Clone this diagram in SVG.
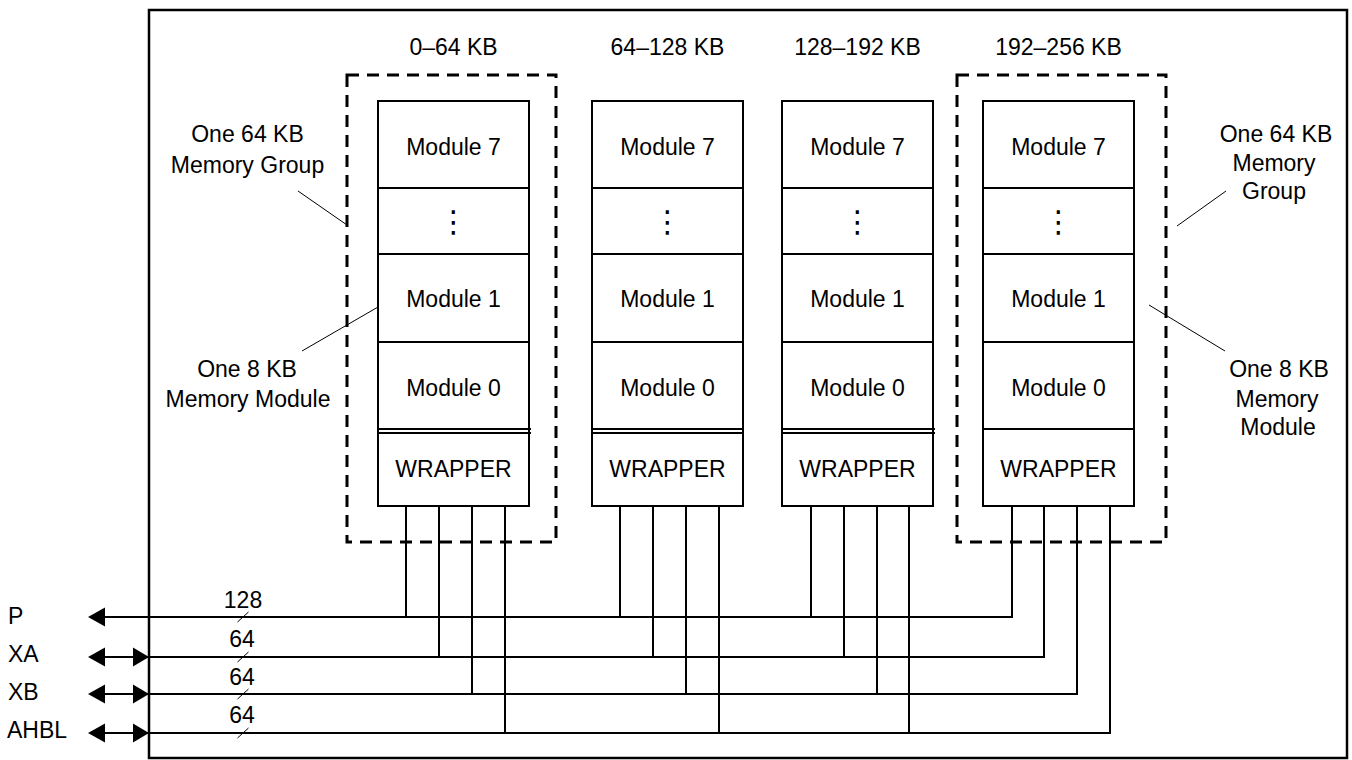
<svg xmlns="http://www.w3.org/2000/svg" width="1352" height="760" viewBox="0 0 1352 760">
<style>
  text { font-family: "Liberation Sans", Arial, sans-serif; font-size: 23px; fill: #000; }
  .c { text-anchor: middle; }
  .box { fill: #fff; stroke: #000; stroke-width: 2; }
  .ln { stroke: #000; stroke-width: 2; fill: none; }
  .thin { stroke: #000; stroke-width: 1; fill: none; }
  .dash { fill: none; stroke: #000; stroke-width: 3; stroke-dasharray: 12 8; }
  .ah { fill: #000; stroke: none; }
  .dots { font-family: "DejaVu Sans", sans-serif; font-size: 30px; }
</style>
<rect width="1352" height="760" fill="#fff"/>
<rect id="chip" x="149" y="10" width="1198" height="748" fill="none" stroke="#000" stroke-width="2.5"/>

<g id="group0">
  <text class="c" x="453.5" y="55">0–64 KB</text>
  <rect class="dash" x="347" y="75" width="209" height="467"/>
</g>
<g id="group3">
  <text class="c" x="1058.5" y="55">192–256 KB</text>
  <rect class="dash" x="957" y="75" width="209" height="467"/>
</g>
<g id="label64">
  <text class="c" x="667.5" y="55">64–128 KB</text>
</g>
<g id="label128">
  <text class="c" x="857.5" y="55">128–192 KB</text>
</g>

<g id="col1">
  <rect class="box" x="378" y="101" width="151" height="405"/>
  <line class="ln" x1="378" y1="188" x2="529" y2="188"/>
  <line class="ln" x1="378" y1="254" x2="529" y2="254"/>
  <line class="ln" x1="378" y1="342" x2="529" y2="342"/>
  <line class="ln" x1="378" y1="429" x2="531" y2="429"/>
  <line class="ln" x1="378" y1="433" x2="531" y2="433"/>
  <text class="c" x="453.5" y="155">Module 7</text>
  <text class="c dots" x="453.5" y="232">⋮</text>
  <text class="c" x="453.5" y="307">Module 1</text>
  <text class="c" x="453.5" y="396">Module 0</text>
  <text class="c" x="453.5" y="477">WRAPPER</text>
</g>
<g id="col2">
  <rect class="box" x="592" y="101" width="151" height="405"/>
  <line class="ln" x1="592" y1="188" x2="743" y2="188"/>
  <line class="ln" x1="592" y1="254" x2="743" y2="254"/>
  <line class="ln" x1="592" y1="342" x2="743" y2="342"/>
  <line class="ln" x1="592" y1="429" x2="743" y2="429"/>
  <line class="ln" x1="592" y1="433" x2="743" y2="433"/>
  <text class="c" x="667.5" y="155">Module 7</text>
  <text class="c dots" x="667.5" y="232">⋮</text>
  <text class="c" x="667.5" y="307">Module 1</text>
  <text class="c" x="667.5" y="396">Module 0</text>
  <text class="c" x="667.5" y="477">WRAPPER</text>
</g>
<g id="col3">
  <rect class="box" x="782" y="101" width="151" height="405"/>
  <line class="ln" x1="782" y1="188" x2="933" y2="188"/>
  <line class="ln" x1="782" y1="254" x2="933" y2="254"/>
  <line class="ln" x1="782" y1="342" x2="933" y2="342"/>
  <line class="ln" x1="782" y1="429" x2="935" y2="429"/>
  <line class="ln" x1="782" y1="433" x2="935" y2="433"/>
  <text class="c" x="857.5" y="155">Module 7</text>
  <text class="c dots" x="857.5" y="232">⋮</text>
  <text class="c" x="857.5" y="307">Module 1</text>
  <text class="c" x="857.5" y="396">Module 0</text>
  <text class="c" x="857.5" y="477">WRAPPER</text>
</g>
<g id="col4">
  <rect class="box" x="983" y="101" width="151" height="405"/>
  <line class="ln" x1="983" y1="188" x2="1134" y2="188"/>
  <line class="ln" x1="983" y1="254" x2="1134" y2="254"/>
  <line class="ln" x1="983" y1="342" x2="1134" y2="342"/>
  <line class="ln" x1="983" y1="429" x2="1134" y2="429"/>
  <text class="c" x="1058.5" y="155">Module 7</text>
  <text class="c dots" x="1058.5" y="232">⋮</text>
  <text class="c" x="1058.5" y="307">Module 1</text>
  <text class="c" x="1058.5" y="396">Module 0</text>
  <text class="c" x="1058.5" y="477">WRAPPER</text>
</g>

<g id="callouts">
  <text class="c" x="247.5" y="142">One 64 KB</text>
  <text class="c" x="247.5" y="173">Memory Group</text>
  <line class="thin" x1="298" y1="191" x2="347" y2="225"/>
  <text class="c" x="247" y="377">One 8 KB</text>
  <text class="c" x="248" y="407">Memory Module</text>
  <line class="thin" x1="302" y1="351" x2="378" y2="307"/>
  <text class="c" x="1276" y="142">One 64 KB</text>
  <text class="c" x="1274" y="171">Memory</text>
  <text class="c" x="1274" y="199">Group</text>
  <line class="thin" x1="1177" y1="226" x2="1226" y2="191"/>
  <text class="c" x="1279" y="377">One 8 KB</text>
  <text class="c" x="1277" y="407">Memory</text>
  <text class="c" x="1278" y="435">Module</text>
  <line class="thin" x1="1149" y1="305" x2="1225" y2="351"/>
</g>

<g id="ports">
  <text x="8" y="624">P</text>
  <text x="8" y="662">XA</text>
  <text x="8" y="700">XB</text>
  <text x="7" y="738">AHBL</text>
  <text class="c" x="243" y="608">128</text>
  <text class="c" x="242" y="647">64</text>
  <text class="c" x="242" y="685">64</text>
  <text class="c" x="242" y="723">64</text>
</g>

<g id="connectors">
  <!-- buses -->
  <line class="ln" x1="100" y1="617" x2="1013" y2="617"/>
  <line class="ln" x1="100" y1="657" x2="1045" y2="657"/>
  <line class="ln" x1="100" y1="694" x2="1078" y2="694"/>
  <line class="ln" x1="100" y1="733" x2="1111" y2="733"/>
  <polygon class="ah" points="88,617 105,607.5 105,626.5"/>
  <polygon class="ah" points="88,657 105,647.5 105,666.5"/>
  <polygon class="ah" points="149,657 133,647.5 133,666.5"/>
  <polygon class="ah" points="88,694 105,684.5 105,703.5"/>
  <polygon class="ah" points="149,694 133,684.5 133,703.5"/>
  <polygon class="ah" points="88,733 105,723.5 105,742.5"/>
  <polygon class="ah" points="149,733 133,723.5 133,742.5"/>
  <!-- bus width slashes -->
  <line class="thin" x1="237.5" y1="622" x2="248.5" y2="612"/>
  <line class="thin" x1="237.5" y1="662" x2="248.5" y2="652"/>
  <line class="thin" x1="237.5" y1="699" x2="248.5" y2="689"/>
  <line class="thin" x1="237.5" y1="738" x2="248.5" y2="728"/>
  <!-- wires col1 -->
  <line class="ln" x1="406" y1="506" x2="406" y2="618"/>
  <line class="ln" x1="439" y1="506" x2="439" y2="658"/>
  <line class="ln" x1="472" y1="506" x2="472" y2="695"/>
  <line class="ln" x1="505" y1="506" x2="505" y2="734"/>
  <!-- wires col2 -->
  <line class="ln" x1="620" y1="506" x2="620" y2="618"/>
  <line class="ln" x1="653" y1="506" x2="653" y2="658"/>
  <line class="ln" x1="686" y1="506" x2="686" y2="695"/>
  <line class="ln" x1="719" y1="506" x2="719" y2="734"/>
  <!-- wires col3 -->
  <line class="ln" x1="811" y1="506" x2="811" y2="618"/>
  <line class="ln" x1="844" y1="506" x2="844" y2="658"/>
  <line class="ln" x1="877" y1="506" x2="877" y2="695"/>
  <line class="ln" x1="909" y1="506" x2="909" y2="734"/>
  <!-- wires col4 -->
  <line class="ln" x1="1012" y1="506" x2="1012" y2="618"/>
  <line class="ln" x1="1044" y1="506" x2="1044" y2="658"/>
  <line class="ln" x1="1077" y1="506" x2="1077" y2="695"/>
  <line class="ln" x1="1110" y1="506" x2="1110" y2="734"/>
</g>
</svg>
